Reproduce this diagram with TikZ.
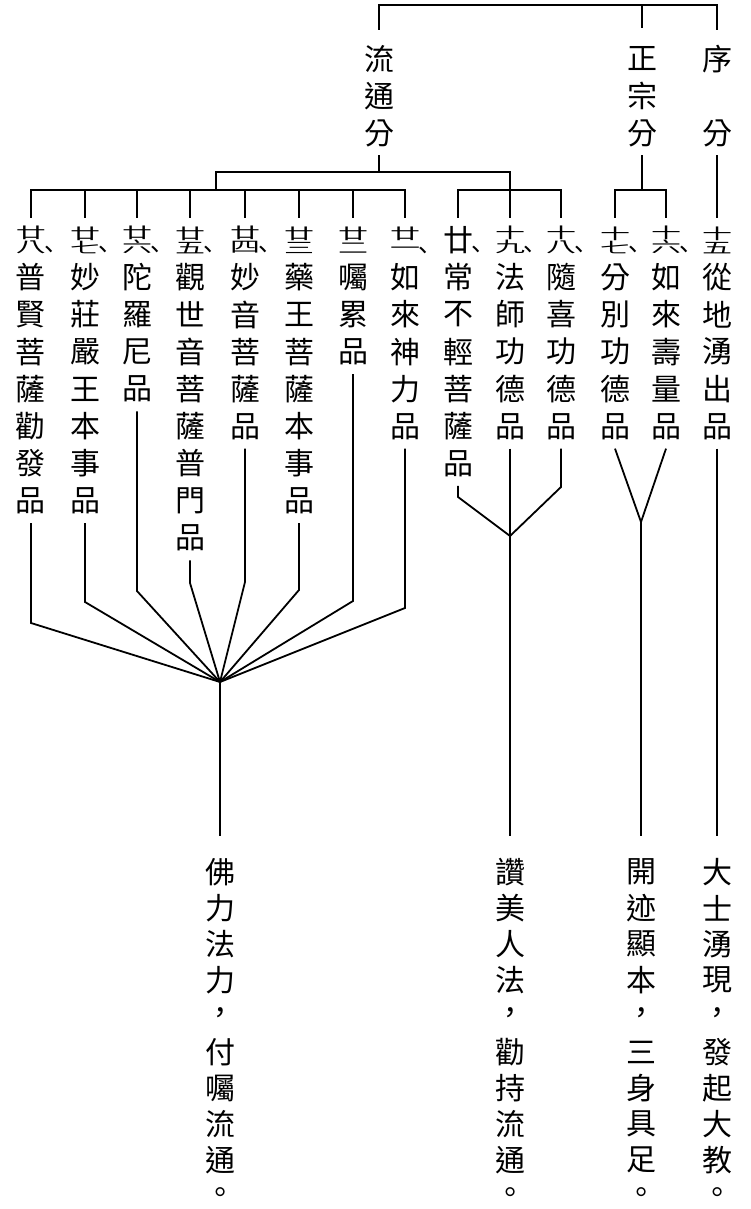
\documentclass[tikz,border=0pt]{standalone}
\usepackage{fontspec}
\usepackage{graphicx}
\newfontfamily\cjk{Noto Sans CJK TC}
\newfontfamily\cjksc{Noto Sans CJK SC}
\newcommand{\hn}[2]{\raisebox{0.43em}{\scalebox{1}[0.5]{#1}}\llap{\raisebox{-0.04em}{\scalebox{1}[0.5]{#2}}}}
\newcommand{\dun}{\rlap{\kern-0.05em{\cjksc\fontsize{12}{12}\selectfont 、}}}
\newcommand{\vcol}[6]{\foreach \ch [count=\i] in {#6} {\node[#1] (#2-\i) at (#3,{#4+(\i-1)*#5}) {\ch};}}
\tikzset{
  gl/.style={inner sep=0pt, minimum height=22pt, minimum width=15pt, font=\cjk\fontsize{15}{15}\selectfont},
  glb/.style={gl, minimum height=36pt},
  wire/.style={line width=0.9pt, line join=miter},
}
\begin{document}
\begin{tikzpicture}[x=0.5pt, y=-0.5pt]
\fill[white] (0,0) rectangle (750,1209);
\useasboundingbox (0,0) rectangle (750,1209);
% top level
\vcol{gl}{liu}{379}{59}{37}{流,通,分}
\vcol{gl}{zheng}{642}{59}{37}{正,宗,分}
\node[gl] (xu-1) at (717,59) {序};
\node[gl] (xu-3) at (717,133) {分};
% chapters
\vcol{gl}{c28}{31}{240}{37.25}{{\hn{廿}{八}\dun},普,賢,菩,薩,勸,發,品}
\vcol{gl}{c27}{85}{240}{37.25}{{\hn{廿}{七}\dun},妙,莊,嚴,王,本,事,品}
\vcol{gl}{c26}{137}{240}{37.25}{{\hn{廿}{六}\dun},陀,羅,尼,品}
\vcol{gl}{c25}{190}{240}{37.25}{{\hn{廿}{五}\dun},觀,世,音,菩,薩,普,門,品}
\vcol{gl}{c24}{245}{240}{37.25}{{\hn{廿}{四}\dun},妙,音,菩,薩,品}
\vcol{gl}{c23}{299}{240}{37.25}{{\hn{廿}{三}},藥,王,菩,薩,本,事,品}
\vcol{gl}{c22}{353}{240}{37.25}{{\hn{廿}{二}},囑,累,品}
\vcol{gl}{c21}{405}{240}{37.25}{{\hn{廿}{一}\dun},如,來,神,力,品}
\vcol{gl}{c20}{458}{240}{37.25}{{廿\dun},常,不,輕,菩,薩,品}
\vcol{gl}{c19}{510}{240}{37.25}{{\hn{十}{九}\dun},法,師,功,德,品}
\vcol{gl}{c18}{561}{240}{37.25}{{\hn{十}{八}\dun},隨,喜,功,德,品}
\vcol{gl}{c17}{615}{240}{37.25}{{\hn{十}{七}\dun},分,別,功,德,品}
\vcol{gl}{c16}{666}{240}{37.25}{{\hn{十}{六}\dun},如,來,壽,量,品}
\vcol{gl}{c15}{717}{240}{37.25}{{\hn{十}{五}},從,地,湧,出,品}
% bottom texts
\vcol{glb}{bA}{220}{872}{36}{佛,力,法,力,，,付,囑,流,通,。}
\vcol{glb}{bB}{510}{872}{36}{讚,美,人,法,，,勸,持,流,通,。}
\vcol{glb}{bC}{641}{872}{36}{開,迹,顯,本,，,三,身,具,足,。}
\vcol{glb}{bD}{717}{872}{36}{大,士,湧,現,，,發,起,大,教,。}
% coordinates
\coordinate (topm) at (642,5);
\coordinate (y172) at (0,172);
\coordinate (y190) at (0,190);
\coordinate (Lj) at (216,172);
\coordinate (Rj) at (510,172);
\coordinate (conA) at (220,682);
\coordinate (conB) at (510,536);
\coordinate (conC) at (641,522);
% top bracket
\draw[wire] ([yshift=3.5pt]liu-1.north) |- (topm) -| ([yshift=3.5pt]xu-1.north);
\draw[wire] (topm) -- ([yshift=4.5pt]zheng-1.north);
% second level
\draw[wire] (liu-3.south) -- (liu-3.south |- y172);
\draw[wire] (Lj |- y190) -- (Lj) -- (Rj) -- (Rj |- y190);
\draw[wire] (c28-1.north) -- (c28-1.north |- y190) -- (c21-1.north |- y190) -- (c21-1.north);
\foreach \c in {c27,c26,c25,c24,c23,c22} \draw[wire] (\c-1.north) -- (\c-1.north |- y190);
\draw[wire] (c20-1.north) -- (c20-1.north |- y190) -- (c18-1.north |- y190) -- (c18-1.north);
\draw[wire] (c19-1.north) -- (c19-1.north |- y190);
\draw[wire] (zheng-3.south) -- (zheng-3.south |- y190);
\draw[wire] (c17-1.north) -- (c17-1.north |- y190) -- (c16-1.north |- y190) -- (c16-1.north);
\draw[wire] (xu-3.south) -- (c15-1.north);
% lower fan A
\foreach \c/\n/\b in {c28/8/623, c27/8/602, c26/5/591, c25/9/583, c24/6/582, c23/8/590, c22/4/601, c21/6/608}
  \draw[wire] (\c-\n.south) -- (\c-\n.south |- 0,\b) -- (conA);
\draw[wire] (conA) -- (bA-1.north);
% fan B
\draw[wire] (c20-7.south) -- (c20-7.south |- 0,497) -- (conB);
\draw[wire] (c18-6.south) -- (c18-6.south |- 0,487) -- (conB);
\draw[wire] (c19-6.south) -- (bB-1.north);
% fan C
\draw[wire] (c17-6.south) -- (conC) -- (c16-6.south);
\draw[wire] (conC) -- (bC-1.north);
% D
\draw[wire] (c15-6.south) -- (bD-1.north);
\end{tikzpicture}
\end{document}
